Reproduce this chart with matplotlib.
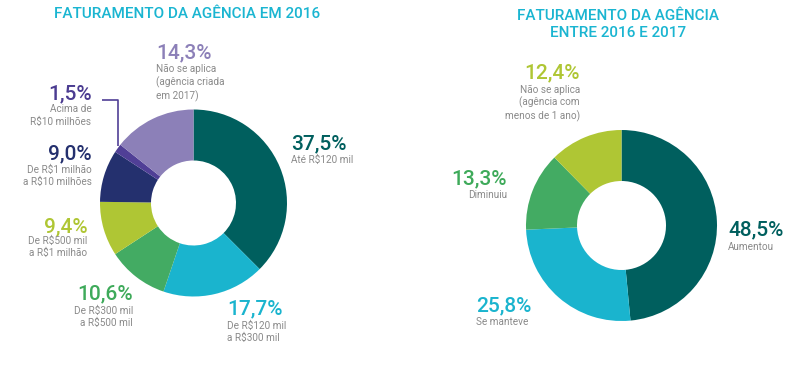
import matplotlib
matplotlib.use("Agg")
import matplotlib.pyplot as plt

plt.rcParams['font.family'] = ['Roboto', 'DejaVu Sans']

# Data
left_title = "FATURAMENTO DA AGÊNCIA EM 2016"
left_values = [37.5, 17.7, 10.6, 9.4, 9.0, 1.5, 14.3]
left_pcts = ["37,5%", "17,7%", "10,6%", "9,4%", "9,0%", "1,5%", "14,3%"]
left_labels = ["Até R$120 mil", "De R$120 mil\na R$300 mil", "De R$300 mil\na R$500 mil",
               "De R$500 mil\na R$1 milhão", "De R$1 milhão\na R$10 milhões",
               "Acima de\nR$10 milhões", "Não se aplica\n(agência criada\nem 2017)"]
left_colors = ["#005F5E", "#1AB4CE", "#43AB63", "#AFC634", "#24306E", "#503F96", "#8C80B8"]
left_text_colors = ["#005F5E", "#1AB4CE", "#3EAA5A", "#AFC634", "#24306E", "#4B3C91", "#8C80B8"]

right_title = "FATURAMENTO DA AGÊNCIA\nENTRE 2016 E 2017"
right_values = [48.5, 25.8, 13.3, 12.4]
right_pcts = ["48,5%", "25,8%", "13,3%", "12,4%"]
right_labels = ["Aumentou", "Se manteve", "Diminuiu", "Não se aplica\n(agência com\nmenos de 1 ano)"]
right_colors = ["#005F5E", "#1AB4CE", "#43AB63", "#AFC634"]
right_text_colors = ["#005F5E", "#1AB4CE", "#3EAA5A", "#AFC634"]

W, H = 800, 366
fig = plt.figure(figsize=(8, 3.66), dpi=100)
ax = fig.add_axes([0, 0, 1, 1])

def Y(y):
    return H - y

ax.pie(left_values, colors=left_colors, startangle=90, counterclock=False,
       center=(193.5, Y(203)), radius=93.5,
       wedgeprops=dict(width=51, edgecolor='none'))
ax.pie(right_values, colors=right_colors, startangle=90, counterclock=False,
       center=(621.5, Y(225.5)), radius=95.5,
       wedgeprops=dict(width=51, edgecolor='none'))

ax.set_xlim(0, W)
ax.set_ylim(0, H)
ax.set_aspect('auto')
ax.axis('off')

title_color = "#1AB5D1"
ax.text(187.5, Y(14.5), left_title, ha='center', va='center', fontsize=11,
        color=title_color, fontweight='medium')
ax.text(618, Y(24.5), right_title, ha='center', va='center', fontsize=11,
        color=title_color, fontweight='medium', linespacing=1.2)

gray = "#8A8A8A"
PCT_FS = 15
SUB_FS = 7.2

def label(x, y, pct, sub, color, ha, sub_y):
    ax.text(x, Y(y), pct, ha=ha, va='center', fontsize=PCT_FS, color=color,
            fontweight='medium')
    ax.text(x, Y(sub_y), sub, ha=ha, va='top', fontsize=SUB_FS, color=gray,
            linespacing=1.25)

# Left labels: (x, y_pct, ha, y_sub_top)
left_pos = [(291, 144, 'left', 155),
            (227, 309, 'left', 321),
            (133, 294, 'right', 305.5),
            (87.5, 227, 'right', 236),
            (91.5, 154, 'right', 165),
            (91.5, 94, 'right', 104.5),
            (156, 53, 'left', 64)]
for (x, y, ha, sy), p, s, c in zip(left_pos, left_pcts, left_labels, left_text_colors):
    label(x, y, p, s, c, ha, sy)

right_pos = [(728, 230, 'left', 241.5),
             (476, 305.5, 'left', 317),
             (507, 179, 'right', 190.5),
             (580, 72.5, 'right', 84.5)]
for (x, y, ha, sy), p, s, c in zip(right_pos, right_pcts, right_labels, right_text_colors):
    label(x, y, p, s, c, ha, sy)

# connector for 1,5%
ax.plot([102, 118, 118], [Y(100), Y(100), Y(146)], color="#503F96", lw=1.2,
        solid_capstyle='butt')

fig.savefig("out.png", dpi=100, facecolor='white')
